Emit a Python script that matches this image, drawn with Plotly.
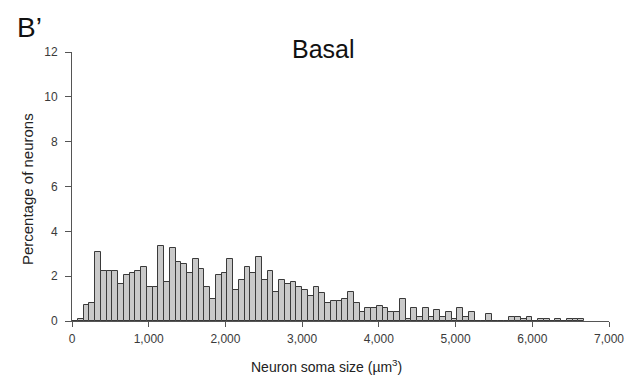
import plotly.graph_objects as go

# Histogram of neuron soma sizes (basal condition), bins of 75 µm³ starting at 0
bin_width = 75
percent = [
    0.0, 0.1, 0.7, 0.82, 3.06, 2.22, 2.22, 2.22, 1.63, 2.03,
    2.13, 2.22, 2.43, 1.52, 1.52, 3.36, 1.72, 3.24, 2.64, 2.54,
    2.13, 2.75, 2.34, 1.52, 1.0, 2.03, 2.13, 2.75, 1.40, 1.82,
    2.43, 2.13, 2.84, 1.82, 2.22, 1.31, 1.82, 1.63, 1.72, 1.52,
    1.40, 1.10, 1.52, 1.25, 0.80, 0.89, 0.89, 1.0, 1.31, 0.80,
    0.40, 0.58, 0.58, 0.68, 0.58, 0.40, 0.40, 1.0, 0.10, 0.58,
    0.20, 0.58, 0.20, 0.50, 0.20, 0.40, 0.10, 0.58, 0.20, 0.40,
    0.0, 0.0, 0.30, 0.0, 0.0, 0.0, 0.20, 0.20, 0.10, 0.20,
    0.0, 0.10, 0.10, 0.0, 0.10, 0.0, 0.10, 0.10, 0.10,
]
bin_centers = [bin_width * i + bin_width / 2 for i in range(len(percent))]

x_ticks = [0, 1000, 2000, 3000, 4000, 5000, 6000, 7000]
x_tick_labels = ["0", "1,000", "2,000", "3,000", "4,000", "5,000", "6,000", "7,000"]
y_ticks = [0, 2, 4, 6, 8, 10, 12]

font_family = "Liberation Sans, Arial, sans-serif"
axis_color = "#555555"
tick_font = dict(size=12, color="#3a3a3a", family=font_family)

fig = go.Figure(
    go.Bar(
        x=bin_centers,
        y=percent,
        width=bin_width,
        marker=dict(color="#c9c9c9", line=dict(color="#3a3a3a", width=1)),
        hoverinfo="skip",
    )
)

fig.update_layout(
    width=637,
    height=381,
    margin=dict(l=72, r=28, t=52, b=60),
    paper_bgcolor="white",
    plot_bgcolor="white",
    showlegend=False,
    bargap=0,
    font=dict(family=font_family, color="#333333", size=12),
    xaxis=dict(
        range=[0, 7000],
        tickvals=x_ticks,
        ticktext=x_tick_labels,
        showline=True,
        linecolor=axis_color,
        linewidth=1,
        ticks="outside",
        ticklen=5,
        tickcolor=axis_color,
        showgrid=False,
        zeroline=False,
        tickfont=tick_font,
        ticklabelstandoff=2,
    ),
    yaxis=dict(
        range=[0, 12],
        tickvals=y_ticks,
        showline=True,
        linecolor=axis_color,
        linewidth=1,
        ticks="outside",
        ticklen=6,
        tickcolor=axis_color,
        showgrid=False,
        zeroline=False,
        tickfont=tick_font,
        ticklabelstandoff=5,
    ),
    annotations=[
        dict(text="Basal", x=0.469, y=1.01, xref="paper", yref="paper",
             xanchor="center", yanchor="middle", showarrow=False,
             font=dict(size=25, color="#111111", family=font_family)),
        dict(text="B\u2019", x=-0.079, y=1.09, xref="paper", yref="paper",
             xanchor="center", yanchor="middle", showarrow=False,
             font=dict(size=28, color="#111111", family=font_family)),
        dict(text="Percentage of neurons", x=-0.084, y=0.49, xref="paper", yref="paper",
             xanchor="center", yanchor="middle", showarrow=False, textangle=-90,
             font=dict(size=15, color="#222222", family=font_family)),
        dict(text="Neuron soma size (\u00b5m<sup>3</sup>)", x=0.473, y=-0.167,
             xref="paper", yref="paper", xanchor="center", yanchor="middle",
             showarrow=False, font=dict(size=14, color="#222222", family=font_family)),
    ],
)

fig.write_html("out.html")
